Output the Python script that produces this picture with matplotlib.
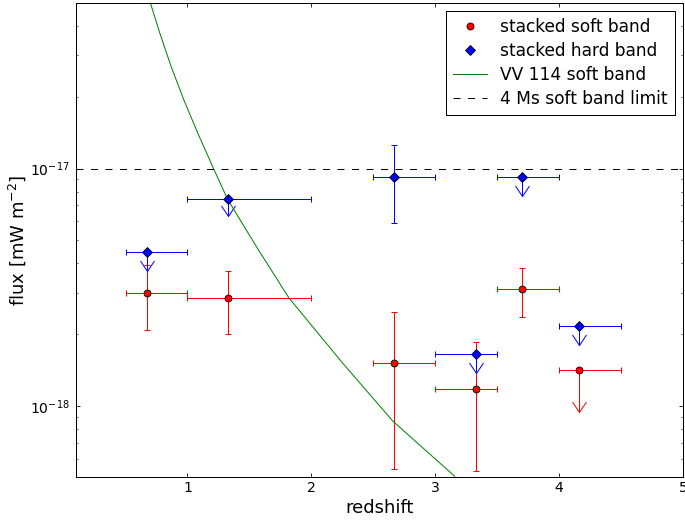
import numpy as np
import matplotlib
matplotlib.use("Agg")
import matplotlib.pyplot as plt
from matplotlib.path import Path
from matplotlib.ticker import FixedLocator, LogLocator, NullFormatter

plt.rcParams["axes.unicode_minus"] = False

# ---------------- data ----------------
# stacked soft band
soft_z = [0.67, 1.33, 2.67, 3.33, 3.70, 4.16]
soft_zlo = [0.5, 1.0, 2.5, 3.0, 3.5, 4.0]
soft_zhi = [1.0, 2.0, 3.0, 3.5, 4.0, 4.5]
soft_flux = [2.98e-18, 2.85e-18, 1.52e-18, 1.18e-18, 3.10e-18, 1.41e-18]
soft_flo = [2.09e-18, 2.00e-18, 5.42e-19, 5.32e-19, 2.38e-18, 9.46e-19]
soft_fhi = [3.91e-18, 3.69e-18, 2.49e-18, 1.85e-18, 3.82e-18, np.nan]
soft_uplim = [False, False, False, False, False, True]

# stacked hard band
hard_z = [0.67, 1.33, 2.67, 3.33, 3.70, 4.16]
hard_zlo = [0.5, 1.0, 2.5, 3.0, 3.5, 4.0]
hard_zhi = [1.0, 2.0, 3.0, 3.5, 4.0, 4.5]
hard_flux = [4.43e-18, 7.47e-18, 9.25e-18, 1.65e-18, 9.25e-18, 2.16e-18]
hard_flo = [3.69e-18, 6.30e-18, 5.91e-18, 1.38e-18, 7.69e-18, 1.81e-18]
hard_fhi = [np.nan, np.nan, 1.26e-17, np.nan, np.nan, np.nan]
hard_uplim = [True, True, False, True, True, True]

# VV 114 soft band curve
vv_z = [0.70, 0.776, 0.868, 0.970, 1.083, 1.21, 1.326, 1.474, 1.555,
        1.819, 2.25, 2.659, 3.157]
vv_flux = [5.0e-17, 3.73e-17, 2.69e-17, 1.95e-17, 1.41e-17, 1.0e-17,
           7.38e-18, 5.52e-18, 4.70e-18, 2.85e-18, 1.52e-18, 8.61e-19,
           5.05e-19]

limit_flux = 1e-17

x_ticks = [1, 2, 3, 4, 5]
x_range = (0.1, 5.0)
y_range = (5e-19, 5e-17)

# ---------------- figure ----------------
DPI = 72
fig = plt.figure(figsize=(685 / DPI, 520 / DPI), dpi=DPI)
ax = fig.add_axes([76 / 685, 42.7 / 520, 607 / 685, 474.6 / 520])
ax.set_yscale("log")

caret = Path([(-1.0, 1.5), (0.0, 0.0), (1.0, 1.5)],
             [Path.MOVETO, Path.LINETO, Path.LINETO])


def draw_series(z, zlo, zhi, f, flo, fhi, uplim, color, marker, label):
    z = np.asarray(z); zlo = np.asarray(zlo); zhi = np.asarray(zhi)
    f = np.asarray(f); flo = np.asarray(flo); fhi = np.asarray(fhi)
    lim = np.asarray(uplim)
    det = ~lim
    # horizontal bars (bin widths)
    ax.errorbar(z, f, xerr=[z - zlo, zhi - z], fmt="none", ecolor=color,
                elinewidth=1.0, capsize=3, capthick=1.0)
    # vertical error bars for detections
    if det.any():
        ax.errorbar(z[det], f[det], yerr=[f[det] - flo[det], fhi[det] - f[det]],
                    fmt="none", ecolor=color, elinewidth=1.0, capsize=3,
                    capthick=1.0)
    # upper limits: line + open caret
    if lim.any():
        ax.vlines(z[lim], flo[lim], f[lim], colors=color, lw=1.0)
        ax.plot(z[lim], flo[lim], ls="none", marker=caret, ms=21,
                mfc="none", mec=color, mew=1.0)
    line, = ax.plot(z, f, ls="none", marker=marker, ms=7, mfc=color,
                    mec="k", mew=0.8, label=label, zorder=3)
    return line


h_soft = draw_series(soft_z, soft_zlo, soft_zhi, soft_flux, soft_flo, soft_fhi,
                     soft_uplim, "#ff0000", "o", "stacked soft band")
h_hard = draw_series(hard_z, hard_zlo, hard_zhi, hard_flux, hard_flo, hard_fhi,
                     hard_uplim, "#0000ff", "D", "stacked hard band")
h_vv, = ax.plot(vv_z, vv_flux, color="#008000", lw=1.0, label="VV 114 soft band")
h_lim = ax.axhline(limit_flux, color="k", lw=1.0, dashes=(7, 7.5),
                   label="4 Ms soft band limit")

ax.set_xlim(*x_range)
ax.set_ylim(*y_range)
ax.xaxis.set_major_locator(FixedLocator(x_ticks))
ax.yaxis.set_major_locator(LogLocator(base=10))
ax.yaxis.set_minor_locator(LogLocator(base=10, subs=np.arange(2, 10)))
ax.yaxis.set_minor_formatter(NullFormatter())

ax.tick_params(which="both", direction="in", top=True, right=True,
               labelsize=14, color="k")
ax.tick_params(which="major", length=4, width=0.8)
ax.tick_params(which="minor", length=2, width=0.6, labelleft=False,
               labelbottom=False)
ax.tick_params(axis="x", pad=4)
ax.tick_params(axis="y", pad=6)
for s in ax.spines.values():
    s.set_linewidth(1.0)

ax.set_xlabel("redshift", fontsize=18, labelpad=4)
ax.set_ylabel(r"flux [mW m$^{-2}$]", fontsize=18, labelpad=2)

leg = ax.legend(handles=[h_soft, h_hard, h_vv, h_lim], loc="upper right",
                numpoints=1, fontsize=17, fancybox=False, framealpha=1,
                edgecolor="k", labelspacing=0.35, borderpad=0.4,
                handletextpad=0.8, borderaxespad=0.5)
leg.get_frame().set_linewidth(1.0)

fig.savefig("out.png", dpi=DPI)
